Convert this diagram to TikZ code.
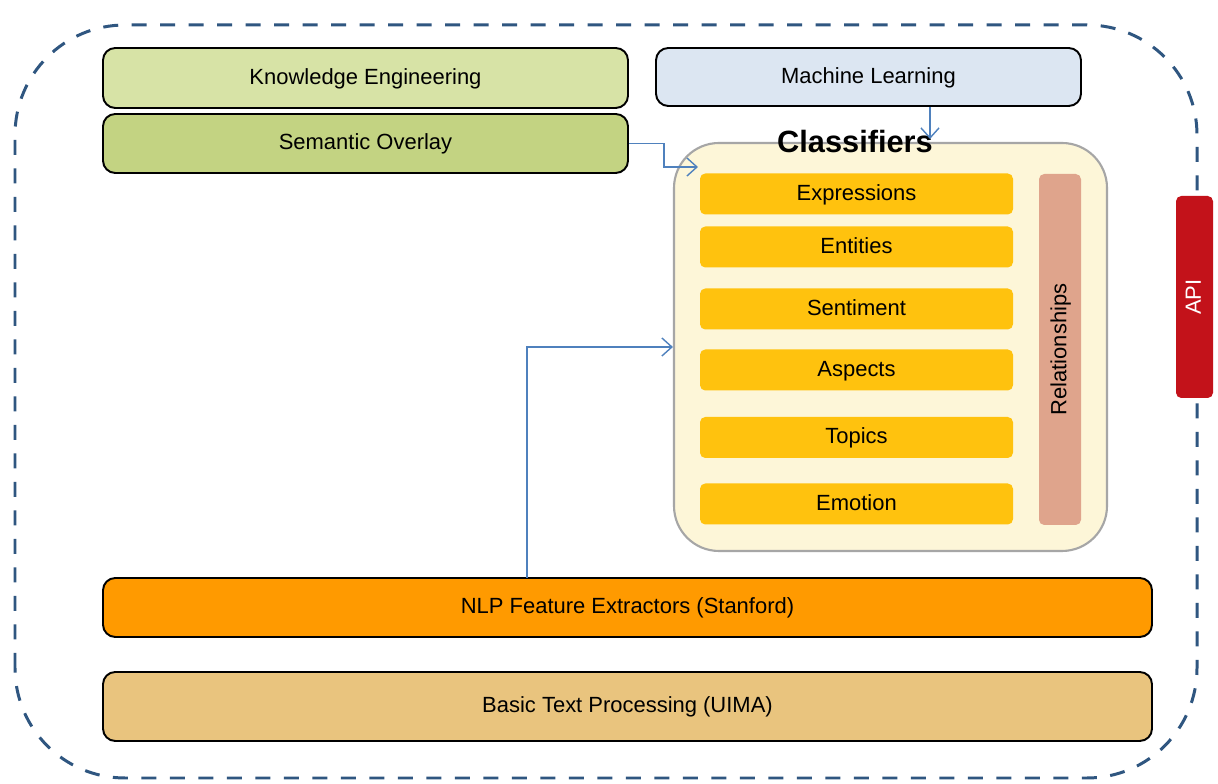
\documentclass[tikz,border=0pt]{standalone}
\usepackage{fontspec}
\setmainfont{Liberation Sans}
\usetikzlibrary{arrows.meta}
\definecolor{keGreen}{HTML}{D7E3A6}
\definecolor{soGreen}{HTML}{C3D382}
\definecolor{mlBlue}{HTML}{DCE6F2}
\definecolor{clsCream}{HTML}{FDF6D8}
\definecolor{clsYellow}{HTML}{FFC20E}
\definecolor{relSalmon}{HTML}{DFA48C}
\definecolor{apiRed}{HTML}{C3121A}
\definecolor{nlpOrange}{HTML}{FF9A00}
\definecolor{baseTan}{HTML}{E9C47E}
\definecolor{outerBlue}{HTML}{2F5680}
\definecolor{linkBlue}{HTML}{4F81BD}
\tikzset{
    txt/.style={font=\fontsize{12.5}{15}\selectfont, text height=0.72em, text depth=0pt},
    layer/.style={txt, draw=black, line width=1.1pt, rounded corners=7pt},
    clsbox/.style={txt, fill=clsYellow, rounded corners=3pt, minimum width=6.26cm, minimum height=0.82cm},
    link/.style={linkBlue, line width=0.8pt, -{Straight Barb[length=2mm,width=3.6mm]}},
}

\begin{document}
\begin{tikzpicture}
\useasboundingbox (0,0) rectangle (24.36,15.68);
\fill[white] (0,0) rectangle (24.36,15.68);
\draw[outerBlue, line width=1.7pt, dash pattern=on 0.3cm off 0.27cm, rounded corners=2.2cm] (0.30,0.12) rectangle (23.94,15.18);

\node[layer, fill=keGreen, minimum width=10.5cm, minimum height=1.2cm] (ke) at (7.31,14.12) {Knowledge Engineering};
\node[layer, fill=soGreen, minimum width=10.5cm, minimum height=1.18cm] (so) at (7.31,12.81) {Semantic Overlay};
\node[layer, fill=mlBlue, minimum width=8.5cm, minimum height=1.16cm] (ml) at (17.37,14.14) {Machine Learning};

\node[draw=black!35, line width=1.2pt, fill=clsCream, rounded corners=0.9cm, minimum width=8.66cm, minimum height=8.16cm] (cls) at (17.81,8.74) {};
\node[font=\fontsize{17.5}{20}\selectfont\bfseries] (clstitle) at (17.10,12.84) {Classifiers};

\node[clsbox] (expr) at (17.13,11.80) {Expressions};
\node[clsbox] (ent) at (17.13,10.74) {Entities};
\node[clsbox] (sent) at (17.13,9.50) {Sentiment};
\node[clsbox] (asp) at (17.13,8.28) {Aspects};
\node[clsbox] (top) at (17.13,6.93) {Topics};
\node[clsbox] (emo) at (17.13,5.60) {Emotion};
\node[txt, fill=relSalmon, rounded corners=3pt, minimum width=7.02cm, minimum height=0.84cm, rotate=90] (rel) at (21.20,8.69) {Relationships};

\node[txt, fill=apiRed, rounded corners=3pt, minimum width=4.04cm, minimum height=0.74cm, rotate=90, text=white] (api) at (23.89,9.74) {API};

\node[layer, fill=nlpOrange, minimum width=20.98cm, minimum height=1.18cm] (nlp) at (12.55,3.53) {NLP Feature Extractors (Stanford)};
\node[layer, fill=baseTan, minimum width=20.98cm, minimum height=1.38cm] (base) at (12.55,1.55) {Basic Text Processing (UIMA)};

\coordinate (soin) at (13.96,12.34);
\coordinate (mlin) at (18.60,12.90);
\coordinate (nlpout) at (10.54,4.12);
\draw[link] (so.east) -- (13.28,12.81) |- (soin);
\draw[link] (ml.south -| mlin) -- (mlin);
\draw[link] (nlpout) |- (cls.west);
\end{tikzpicture}
\end{document}
